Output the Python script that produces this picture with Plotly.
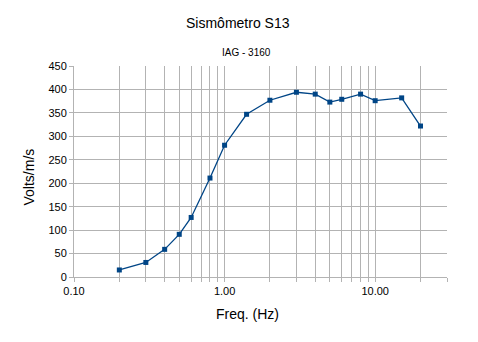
import plotly.graph_objects as go

freq = [0.2, 0.3, 0.4, 0.5, 0.6, 0.8, 1.0, 1.4, 2, 3, 4, 5, 6, 8, 10, 15, 20]
volts = [15, 31, 59, 91, 127, 211, 281, 347, 377, 394, 390, 373, 379, 390, 376, 382, 322]

x_tickvals = [0.1, 1, 10]
x_ticktext = ["0.10", "1.00", "10.00"]
x_minor = [m * d for d in (0.1, 1, 10) for m in range(2, 10) if m * d <= 30]

font = "Liberation Sans, Arial, sans-serif"
grid = "#b3b3b3"

L, R, T, B = 74, 447, 66, 277
W, H = R - L, B - T


def px(x):
    return (x - L) / W


def py(y):
    return (B - y) / H


fig = go.Figure()
fig.add_trace(go.Scatter(
    x=freq, y=volts, mode="lines+markers",
    line=dict(color="#004586", width=1.3),
    marker=dict(symbol="square", size=5, color="#004586"),
    showlegend=False,
))

fig.update_layout(
    width=478, height=342,
    margin=dict(l=L, r=478 - R, t=T, b=342 - B),
    paper_bgcolor="white", plot_bgcolor="white",
    font=dict(family=font, color="#000000", size=11),
)
fig.add_annotation(text="Sismômetro S13", xref="paper", yref="paper",
                   x=px(238), y=py(23), showarrow=False,
                   font=dict(size=14, family=font), xanchor="center", yanchor="middle")
fig.add_annotation(text="IAG - 3160", xref="paper", yref="paper",
                   x=px(246), y=py(52), showarrow=False,
                   font=dict(size=10, family=font), xanchor="center", yanchor="middle")
fig.add_annotation(text="Freq. (Hz)", xref="paper", yref="paper",
                   x=px(247.5), y=py(314), showarrow=False,
                   font=dict(size=14, family=font), xanchor="center", yanchor="middle")
fig.add_annotation(text="Volts/m/s", xref="paper", yref="paper",
                   x=px(28), y=py(177.5), showarrow=False, textangle=-90,
                   font=dict(size=14, family=font), xanchor="center", yanchor="middle")

fig.update_xaxes(
    type="log", range=[-1, 1.4771],
    tickvals=x_tickvals, ticktext=x_ticktext,
    showgrid=True, gridcolor=grid, gridwidth=1,
    ticks="outside", ticklen=4, tickcolor=grid,
    showline=True, linecolor=grid, linewidth=1,
    minor=dict(tickvals=x_minor, showgrid=True, gridcolor=grid, gridwidth=1,
               ticks="outside", ticklen=4, tickcolor=grid),
    tickfont=dict(size=11, family=font),
    zeroline=False,
)
fig.update_yaxes(
    range=[0, 450], dtick=50, tick0=0,
    showgrid=True, gridcolor=grid, gridwidth=1,
    ticks="outside", ticklen=4, tickcolor=grid,
    showline=True, linecolor=grid, linewidth=1,
    tickfont=dict(size=11, family=font),
    zeroline=False,
)

fig.write_html("out.html")
